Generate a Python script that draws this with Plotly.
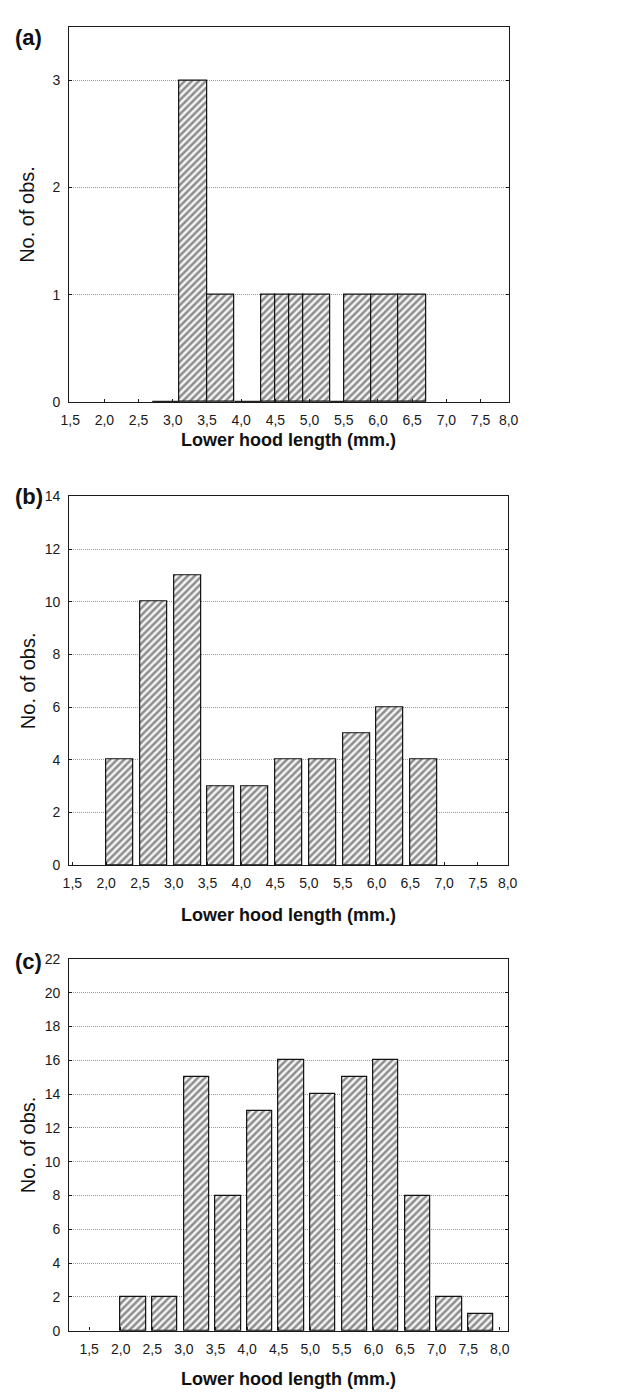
import plotly.graph_objects as go

# ---------------- data ----------------
# panel (a): histogram bins (left edge, width) and counts
a_bin_left = [3.1, 3.5, 4.3, 4.5, 4.7, 4.9, 5.5, 5.9, 6.3]
a_bin_width = [0.4, 0.4, 0.2, 0.2, 0.2, 0.4, 0.4, 0.4, 0.4]
a_counts = [3, 1, 1, 1, 1, 1, 1, 1, 1]
a_zero_left = [2.7, 3.9, 5.3]
a_zero_right = [3.1, 4.3, 5.5]

# panel (b)
b_bin_left = [2.0, 2.5, 3.0, 3.5, 4.0, 4.5, 5.0, 5.5, 6.0, 6.5]
b_bin_width = [0.4] * 10
b_counts = [4, 10, 11, 3, 3, 4, 4, 5, 6, 4]

# panel (c)
c_bin_left = [2.0, 2.5, 3.0, 3.5, 4.0, 4.5, 5.0, 5.5, 6.0, 6.5, 7.0, 7.5]
c_bin_width = [0.4] * 12
c_counts = [2, 2, 15, 8, 13, 16, 14, 15, 16, 8, 2, 1]

x_tick_values = [1.5, 2.0, 2.5, 3.0, 3.5, 4.0, 4.5, 5.0, 5.5, 6.0, 6.5, 7.0, 7.5, 8.0]
x_tick_labels = ["1,5", "2,0", "2,5", "3,0", "3,5", "4,0", "4,5", "5,0",
                 "5,5", "6,0", "6,5", "7,0", "7,5", "8,0"]
a_y_ticks = [0, 1, 2, 3]
b_y_ticks = [0, 2, 4, 6, 8, 10, 12, 14]
c_y_ticks = [0, 2, 4, 6, 8, 10, 12, 14, 16, 18, 20, 22]

panel_labels = ["(a)", "(b)", "(c)"]
x_title = "Lower hood length (mm.)"
y_title = "No. of obs."

# ---------------- layout helpers ----------------
W, H = 631, 1398
FONT = "Liberation Sans, Arial, sans-serif"

def px_x(p):
    return p / W

def px_y(p):
    return 1 - p / H

pattern = dict(shape="/", size=5, solidity=0.5, fgcolor="#262626", bgcolor="#f4f4f4")

fig = go.Figure()

def add_bars(left, width, counts, idx):
    fig.add_trace(go.Bar(
        x=left, y=counts, width=width, offset=0,
        marker=dict(color="#f4f4f4", pattern=pattern,
                    line=dict(color="#111111", width=1.2)),
        xaxis="x" if idx == 1 else f"x{idx}",
        yaxis="y" if idx == 1 else f"y{idx}",
        showlegend=False, hoverinfo="skip",
    ))

add_bars(a_bin_left, a_bin_width, a_counts, 1)
add_bars(b_bin_left, b_bin_width, b_counts, 2)
add_bars(c_bin_left, c_bin_width, c_counts, 3)

# zero-count bins in panel (a), drawn as thick baseline segments
zx, zy = [], []
for l, r in zip(a_zero_left, a_zero_right):
    zx += [l, r, None]
    zy += [0, 0, None]
fig.add_trace(go.Scatter(x=zx, y=zy, mode="lines",
                         line=dict(color="#222222", width=2.6),
                         xaxis="x", yaxis="y", showlegend=False, hoverinfo="skip"))

# panel geometry in pixels: (left, right, top, bottom), x range
panels = [
    dict(l=62, r=515, t=19, b=398.5, xr=[1.486, 7.92], yr=[0, 3.5], yt=a_y_ticks, squeeze=True),
    dict(l=62, r=514, t=494, b=867, xr=[1.454, 7.95], yr=[0, 14], yt=b_y_ticks, squeeze=True),
    dict(l=62, r=514, t=962, b=1338, xr=[1.185, 8.135], yr=[0, 22], yt=c_y_ticks, squeeze=False),
]

layout = dict(
    width=W, height=H, margin=dict(l=0, r=0, t=0, b=0),
    paper_bgcolor="white", plot_bgcolor="white",
    bargap=0, barmode="overlay",
    font=dict(family=FONT, color="#1a1a1a", size=14),
)

annotations = []
for i, p in enumerate(panels, start=1):
    xk = "xaxis" if i == 1 else f"xaxis{i}"
    yk = "yaxis" if i == 1 else f"yaxis{i}"
    anchor_x = "x" if i == 1 else f"x{i}"
    anchor_y = "y" if i == 1 else f"y{i}"
    if p["squeeze"]:
        tv = x_tick_values[:-1] + [p["xr"][1] - 0.01]
    else:
        tv = x_tick_values
    layout[xk] = dict(
        domain=[px_x(p["l"]), px_x(p["r"])], anchor=anchor_y,
        range=p["xr"], tickmode="array", tickvals=tv, ticktext=x_tick_labels,
        showgrid=False, zeroline=False,
        showline=True, linecolor="#1a1a1a", linewidth=1.4, mirror=True,
        ticks="inside", ticklen=3, tickcolor="#1a1a1a",
        tickfont=dict(family=FONT, size=14, color="#1a1a1a"),
        ticklabelstandoff=5,
    )
    layout[yk] = dict(
        domain=[px_y(p["b"]), px_y(p["t"])], anchor=anchor_x,
        range=p["yr"], tickmode="array", tickvals=p["yt"],
        ticktext=[str(v) for v in p["yt"]],
        showgrid=True, gridcolor="#999999", griddash="1px,1px", gridwidth=1,
        zeroline=False,
        showline=True, linecolor="#1a1a1a", linewidth=1.4, mirror="ticks",
        ticks="inside", ticklen=3, tickcolor="#1a1a1a",
        tickfont=dict(family=FONT, size=14, color="#1a1a1a"),
        ticklabelstandoff=5,
    )

# panel labels, axis titles
label_y = [29.5, 494, 965]
xtitle_y = [437, 917, 1387]
for i, p in enumerate(panels):
    annotations.append(dict(
        text=f"<b>{panel_labels[i]}</b>", xref="paper", yref="paper",
        x=px_x(20.5), y=px_y(label_y[i]), xanchor="center", yanchor="middle",
        showarrow=False, font=dict(family=FONT, size=22, color="#111111")))
    annotations.append(dict(
        text=f"<b>{x_title}</b>", xref="paper", yref="paper",
        x=px_x(288), y=px_y(xtitle_y[i]), xanchor="center", yanchor="middle",
        showarrow=False, font=dict(family=FONT, size=18, color="#111111")))
    annotations.append(dict(
        text=y_title, xref="paper", yref="paper", textangle=-90,
        x=px_x(19), y=px_y((p["t"] + p["b"]) / 2), xanchor="center", yanchor="middle",
        showarrow=False, font=dict(family=FONT, size=20, color="#111111")))

layout["annotations"] = annotations
fig.update_layout(**layout)
fig.write_html(
    "out.html",
    config={"displayModeBar": False},
    post_script="document.body.style.margin='0';document.body.style.overflow='hidden';",
)
